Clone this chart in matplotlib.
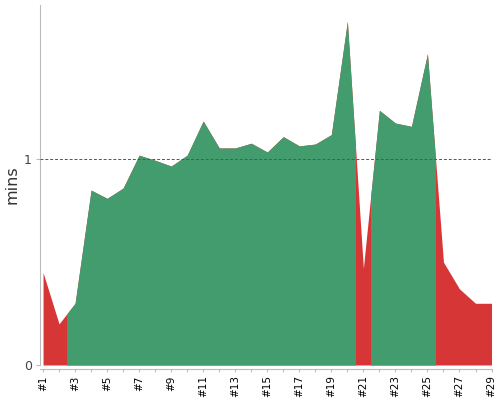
import matplotlib
matplotlib.use('Agg')
import matplotlib.pyplot as plt
from matplotlib.patches import Rectangle
import numpy as np

### data
runs = list(range(1, 30))
mins = [0.45, 0.20, 0.30, 0.85, 0.81, 0.86, 1.02, 0.995, 0.967, 1.02,
        1.186, 1.055, 1.055, 1.078, 1.035, 1.11, 1.065, 1.074, 1.12, 1.67,
        0.47, 1.238, 1.176, 1.16, 1.513, 0.50, 0.37, 0.30, 0.30]
# 1 = run passed (green), 0 = failed (red)
passed = [0, 0, 1, 1, 1, 1, 1, 1, 1, 1,
          1, 1, 1, 1, 1, 1, 1, 1, 1, 1,
          0, 1, 1, 1, 1, 0, 0, 0, 0]
tick_labels = ['#%d' % r for r in runs]

green = '#439c6d'
red = '#d63636'

fig = plt.figure(figsize=(5, 4), dpi=100)
ax = fig.add_axes([0.08, 0.0875, 0.904, 0.9])

x = np.array(runs)
y = np.array(mins)
ax.fill_between(x, 0, y, color=red, lw=0, zorder=2)

## green bands: each passed run owns the half-interval around it
start = None
for i, p in enumerate(passed + [0]):
    if p and start is None:
        start = i
    if not p and start is not None:
        x0, x1 = runs[start] - 0.5, runs[i - 1] + 0.5
        poly = ax.fill_between(x, 0, y, color=green, lw=0, zorder=3)
        clip = Rectangle((x0, 0), x1 - x0, 3, transform=ax.transData)
        poly.set_clip_path(clip)
        start = None

ax.axhline(1, color='#555555', lw=0.7, ls=(0, (3, 2)), zorder=4)

for s in ['top', 'right']:
    ax.spines[s].set_visible(False)
ax.spines['bottom'].set_position(('outward', 3))
ax.spines['bottom'].set_color('#bbbbbb')
ax.spines['left'].set_color('#bbbbbb')
ax.tick_params(axis='x', colors='#bbbbbb', length=2, labelcolor='black',
               pad=2.5, labelrotation=90, labelsize=7.5)
ax.tick_params(axis='y', colors='#bbbbbb', length=3, labelcolor='#444444',
               pad=3, labelsize=9)

ax.set_xlim(0.81, 29.03)
ax.set_ylim(0, 1.75)
ax.set_xticks(runs)
ax.set_xticklabels([l if i % 2 == 0 else '' for i, l in enumerate(tick_labels)])
ax.set_yticks([0, 1])
ax.set_yticklabels(['0', '1'])
ax.set_ylabel('mins', fontsize=11.5, color='#333333', labelpad=3)

fig.savefig('out.png', dpi=100)
